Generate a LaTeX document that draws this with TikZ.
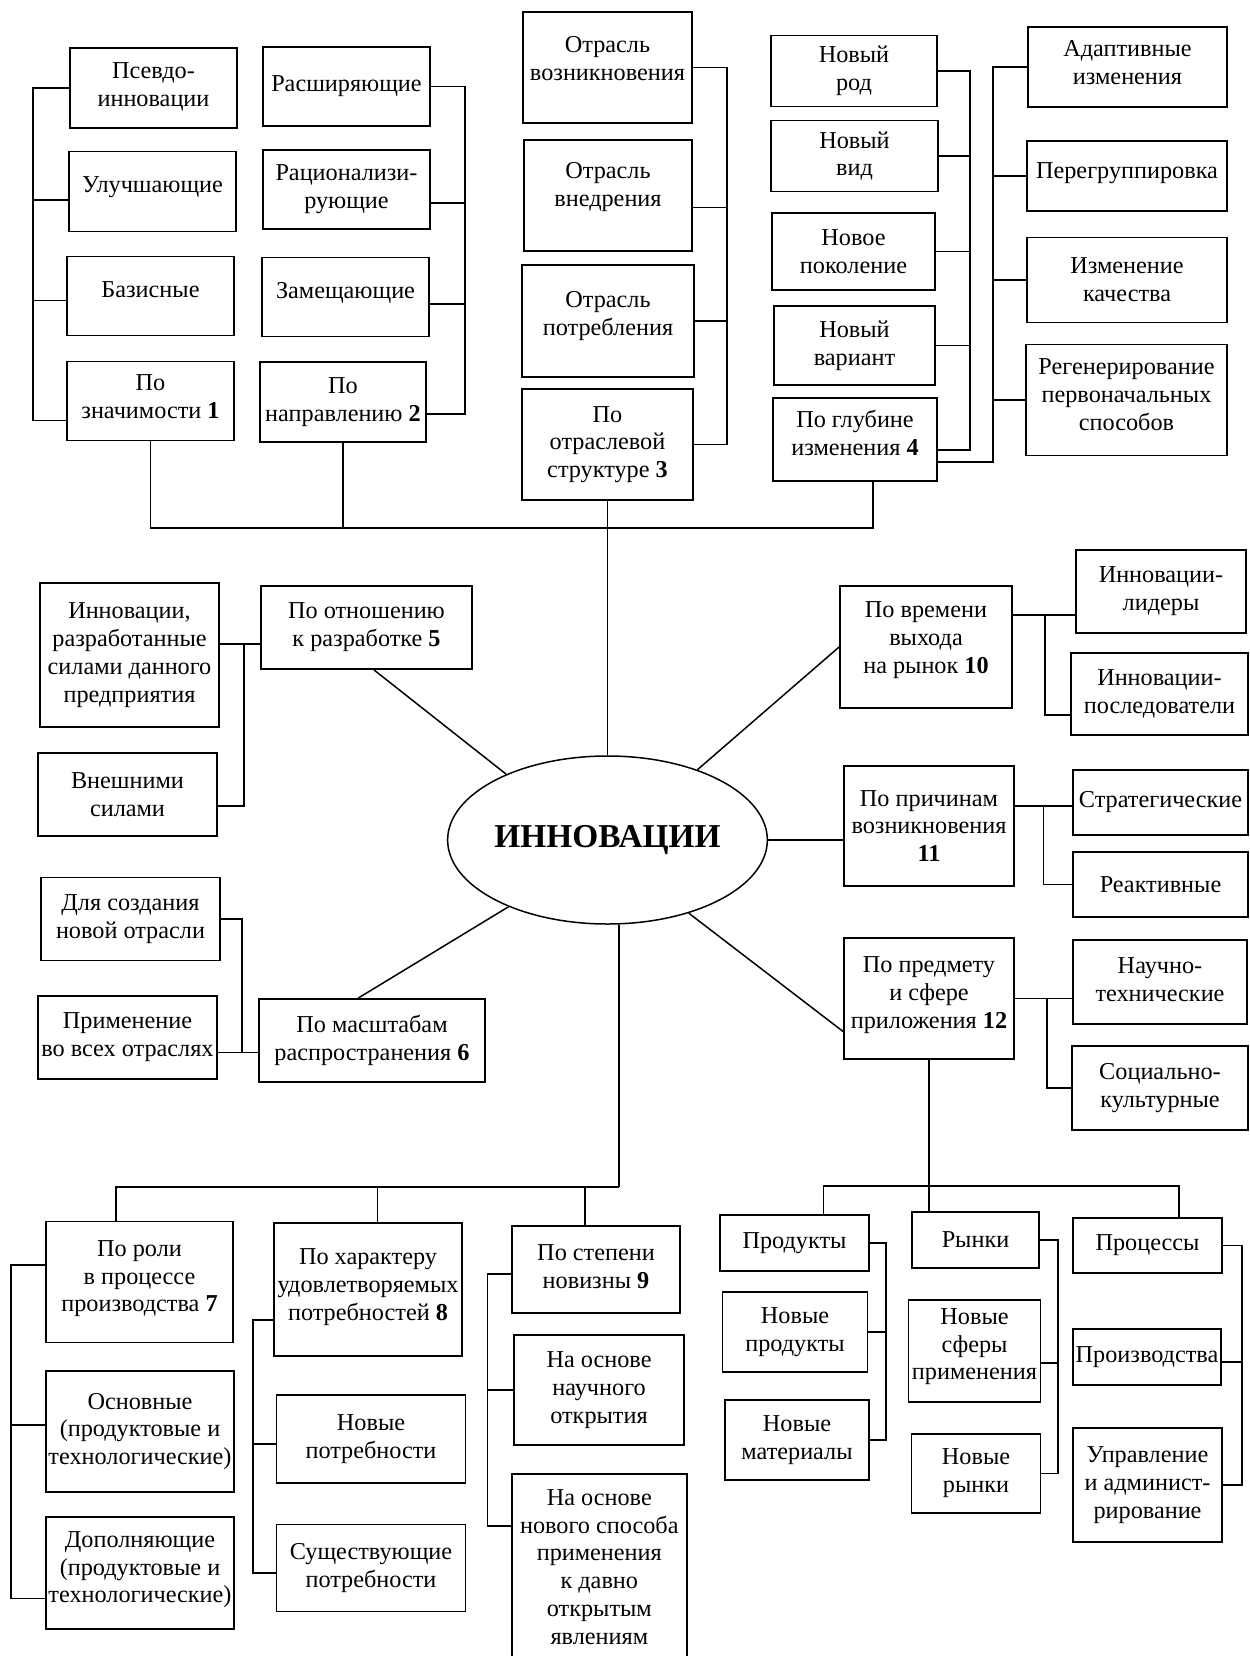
\documentclass[tikz,border=0pt]{standalone}
\usepackage{fontspec}
\setmainfont{Liberation Serif}
\usetikzlibrary{shapes.geometric}

\begin{document}
\begin{tikzpicture}[
  x=0.2mm, y=-0.2mm,
  box/.style={draw, line width=1.05pt, align=center, inner sep=1pt, font=\fontsize{13.8}{15.8}\selectfont},
  sz/.style 2 args={minimum width=#1*0.2mm, minimum height=#2*0.2mm},
  lift/.style={execute at end node={\rule[-#1]{0pt}{#1}}},
  link/.style={line width=1.05pt},
  ray/.style={line width=0.85pt},
  hub/.style={draw, ellipse, line width=0.85pt, inner sep=0pt, font=\fontsize{19}{23}\selectfont\bfseries}
]
  \useasboundingbox (0,0) rectangle (1250,1656);
  \clip (0,0) rectangle (1250,1656);

  % centre
  \node[hub, sz={307}{168}] (ell) at (607.5,840) {ИННОВАЦИИ};

  % 1
  \node[box, sz={167}{80}, lift=4pt] (c1a) at (153.5,87.7) {Псевдо-\\инновации};
  \node[box, sz={167}{80}, lift=8pt] (c1b) at (152.5,191.5) {Улучшающие};
  \node[box, sz={167}{79}, lift=7.2pt] (c1c) at (150.5,296) {Базисные};
  \node[box, sz={167}{79}, lift=5.4pt] (c1) at (150.5,401) {По\\значимости \textbf{1}};
  \coordinate (b1) at (33,0);
  \draw[link] (c1a.west) -| (b1 |- c1.193) -- (c1.193);
  \draw[link] (c1b.186) -- (c1b.186 -| b1);
  \draw[link] (c1c.183) -- (c1c.183 -| b1);

  % 2
  \node[box, sz={167}{79}] (c2a) at (346.5,86.5) {Расширяющие};
  \node[box, sz={167}{79}] (c2b) at (346.5,189.5) {Рационализи-\\рующие};
  \node[box, sz={167}{79}, lift=8pt] (c2c) at (345.5,297) {Замещающие};
  \node[box, sz={166}{80}] (c2) at (343,402) {По\\направлению \textbf{2}};
  \coordinate (b2) at (465,0);
  \draw[link] (c2a.east) -| (b2 |- c2.352) -- (c2.352);
  \draw[link] (c2b.351) -- (c2b.351 -| b2);
  \draw[link] (c2c.355) -- (c2c.355 -| b2);

  % 3
  \node[box, sz={169}{111}, lift=10pt] (c3a) at (607.5,67.5) {Отрасль\\возникновения};
  \node[box, sz={168}{111}, lift=12.6pt] (c3b) at (608,195.5) {Отрасль\\внедрения};
  \node[box, sz={172}{112}, lift=8.4pt] (c3c) at (608,321) {Отрасль\\потребления};
  \node[box, sz={171}{111}] (c3) at (607.5,444.5) {По\\отраслевой\\структуре \textbf{3}};
  \coordinate (b3) at (727,0);
  \draw[link] (c3a.east) -| (b3 |- c3.east) -- (c3.east);
  \draw[link] (c3b.352) -- (c3b.352 -| b3);
  \draw[link] (c3c.east) -- (c3c.east -| b3);

  % 4
  \node[box, sz={166}{71}] (c4a) at (854,71) {Новый\\род};
  \node[box, sz={167}{71}] (c4b) at (854.5,156) {Новый\\вид};
  \node[box, sz={163}{77}] (c4c) at (853.5,251.5) {Новое\\поколение};
  \node[box, sz={161}{79}] (c4d) at (854.5,345.5) {Новый\\вариант};
  \node[box, sz={164}{83}, lift=7.8pt] (c4) at (855,439.5) {По глубине\\изменения \textbf{4}};
  \coordinate (b4) at (970,0);
  \draw[link] (c4a.east) -| (b4 |- c4.353) -- (c4.353);
  \draw[link] (c4b.east) -- (c4b.east -| b4);
  \draw[link] (c4c.east) -- (c4c.east -| b4);
  \draw[link] (c4d.east) -- (c4d.east -| b4);

  \node[box, sz={199}{80}, lift=4.8pt] (c4e) at (1127.5,67) {Адаптивные\\изменения};
  \node[box, sz={200}{70}, lift=6.6pt] (c4f) at (1127,176) {Перегруппировка};
  \node[box, sz={200}{85}] (c4g) at (1127,280) {Изменение\\качества};
  \node[box, sz={201}{111}, lift=6pt] (c4h) at (1126.5,400) {Регенерирование\\первоначальных\\способов};
  \coordinate (b5) at (993,0);
  \draw[link] (c4.345) -| (b5 |- c4e.west) -- (c4e.west);
  \draw[link] (c4f.west) -- (c4f.west -| b5);
  \draw[link] (c4g.west) -- (c4g.west -| b5);
  \draw[link] (c4h.west) -- (c4h.west -| b5);

  % top bus
  \coordinate (b0) at (0,528);
  \draw[link] (c1.south) |- (b0 -| c4.293) -- (c4.293);
  \draw[link] (c2.south) -- (c2.south |- b0);
  \draw[link] (c3.south) -- (ell.north);

  % 5
  \node[box, sz={179}{144}] (c5a) at (129.5,655) {Инновации,\\разработанные\\силами данного\\предприятия};
  \node[box, sz={179}{83}] (c5b) at (127.5,794.5) {Внешними\\силами};
  \node[box, sz={211}{83}] (c5) at (366.5,627.5) {По отношению\\к разработке \textbf{5}};
  \coordinate (b6) at (244,0);
  \draw[link] (c5.189) -- (c5.189 -| c5a.east);
  \draw[link] (b6 |- c5.189) |- (c5b.353);
  \draw[ray] (c5.280) -- (ell.147);

  % 6
  \node[box, sz={179}{83}] (c6a) at (130.5,919) {Для создания\\новой отрасли};
  \node[box, sz={179}{83}] (c6b) at (127.5,1037.5) {Применение\\во всех отраслях};
  \node[box, sz={226}{83}] (c6) at (372,1040.5) {По масштабам\\распространения \textbf{6}};
  \coordinate (b7) at (242,0);
  \draw[link] (c6.186) -- (c6.186 -| c6b.east);
  \draw[link] (c6a.east) -| (b7 |- c6.186);
  \draw[ray] (c6.108) -- (ell.214);

  % 10
  \node[box, sz={172}{122}, lift=10.8pt] (c10) at (926,647) {По времени\\выхода\\на рынок \textbf{10}};
  \node[box, sz={170}{83}] (c10a) at (1161,591.5) {Инновации-\\лидеры};
  \node[box, sz={177}{82}] (c10b) at (1159.5,694) {Инновации-\\последователи};
  \coordinate (b10) at (1045,0);
  \draw[link] (c10.20) -- (c10.20 -| c10a.west);
  \draw[link] (b10 |- c10.20) |- (c10b.193);
  \draw[ray] (ell.38) -- (c10.west);

  % 11
  \node[box, sz={170}{120}] (c11) at (929,826) {По причинам\\возникновения\\\textbf{11}};
  \node[box, sz={175}{65}] (c11a) at (1160.5,802.5) {Стратегические};
  \node[box, sz={175}{65}] (c11b) at (1160.5,884.5) {Реактивные};
  \coordinate (b11) at (1043.5,0);
  \draw[link] (c11.13) -- (c11.13 -| c11a.west);
  \draw[link] (b11 |- c11.13) |- (c11b.west);
  \draw[ray] (ell.east) -- (ell.east -| c11.west);

  % 12
  \node[box, sz={170}{121}, lift=6.6pt] (c12) at (929,998.5) {По предмету\\и сфере\\приложения \textbf{12}};
  \node[box, sz={174}{84}, lift=3pt] (c12a) at (1160,982) {Научно-\\технические};
  \node[box, sz={176}{84}] (c12b) at (1160,1088) {Социально-\\культурные};
  \coordinate (b12) at (1047,0);
  \draw[link] (c12.east) -- (c12.east -| c12a.west);
  \draw[link] (b12 |- c12.east) |- (c12b.west);
  \draw[ray] (ell.318) -- (c12.201);

  \node[box, sz={149}{56}] (c12c) at (794.5,1243) {Продукты};
  \node[box, sz={127}{56}] (c12d) at (975.5,1240) {Рынки};
  \node[box, sz={149}{55}] (c12e) at (1147.5,1245.5) {Процессы};
  \coordinate (b13) at (0,1186);
  \draw[link] (c12.south) -- (c12.south |- c12d.north);
  \draw[link] (c12c.45) |- (b13 -| c12e.42) -- (c12e.42);

  \node[box, sz={145}{80}] (c12f) at (795,1332) {Новые\\продукты};
  \node[box, sz={144}{80}] (c12g) at (797,1440) {Новые\\материалы};
  \coordinate (b14) at (886,0);
  \draw[link] (c12c.east) -| (b14 |- c12g.east) -- (c12g.east);
  \draw[link] (c12f.east) -- (c12f.east -| b14);

  \node[box, sz={132}{102}, lift=7.8pt] (c12h) at (974.5,1351) {Новые\\сферы\\применения};
  \node[box, sz={129}{79}] (c12i) at (976,1473.5) {Новые\\рынки};
  \coordinate (b15) at (1058,0);
  \draw[link] (c12d.east) -| (b15 |- c12i.east) -- (c12i.east);
  \draw[link] (c12h.350) -- (c12h.350 -| b15);

  \node[box, sz={148}{56}] (c12j) at (1147,1357) {Производства};
  \node[box, sz={149}{114}] (c12k) at (1147.5,1485) {Управление\\и админист-\\рирование};
  \coordinate (b16) at (1242,0);
  \draw[link] (c12e.east) -| (b16 |- c12k.east) -- (c12k.east);
  \draw[link] (c12j.356) -- (c12j.356 -| b16);

  % 7, 8, 9
  \coordinate (b17) at (0,1187);
  \node[box, sz={187}{121}, lift=6.6pt] (c7) at (139.5,1282) {По роли\\в процессе\\производства \textbf{7}};
  \node[box, sz={188}{133}, lift=5.4pt] (c8) at (368,1289.5) {По характеру\\удовлетворяемых\\потребностей \textbf{8}};
  \node[box, sz={168}{87}, lift=3.6pt] (c9) at (596,1269.5) {По степени\\новизны \textbf{9}};
  \draw[link] (ell.278) -- (ell.278 |- b17);
  \draw[link] (c7.111) |- (b17 -| ell.278);
  \draw[link] (c8.82) -- (c8.82 |- b17);
  \draw[link] (c9.104) -- (c9.104 |- b17);

  \node[box, sz={188}{121}] (c7a) at (140,1431.5) {Основные\\(продуктовые и\\технологические)};
  \node[box, sz={188}{112}, lift=6.6pt] (c7b) at (140,1573) {Дополняющие\\(продуктовые и\\технологические)};
  \coordinate (b18) at (11,0);
  \draw[link] (c7.170) -| (b18 |- c7b.195) -- (c7b.195);
  \draw[link] (c7a.176) -- (c7a.176 -| b18);

  \node[box, sz={189}{88}] (c8a) at (371,1439) {Новые\\потребности};
  \node[box, sz={189}{87}] (c8b) at (371,1568) {Существующие\\потребности};
  \coordinate (b19) at (253,0);
  \draw[link] (c8.198) -| (b19 |- c8b.183) -- (c8b.183);
  \draw[link] (c8a.183) -- (c8a.183 -| b19);

  \node[box, sz={170}{110}] (c9a) at (599,1390) {На основе\\научного\\открытия};
  \node[box, sz={175}{194}, lift=4.8pt] (c9b) at (599.3,1571) {На основе\\нового способа\\применения\\к давно\\открытым\\явлениям};
  \coordinate (b20) at (487.5,0);
  \draw[link] (c9.183) -| (b20 |- c9b.153) -- (c9b.153);
  \draw[link] (c9a.west) -- (c9a.west -| b20);
\end{tikzpicture}
\end{document}
